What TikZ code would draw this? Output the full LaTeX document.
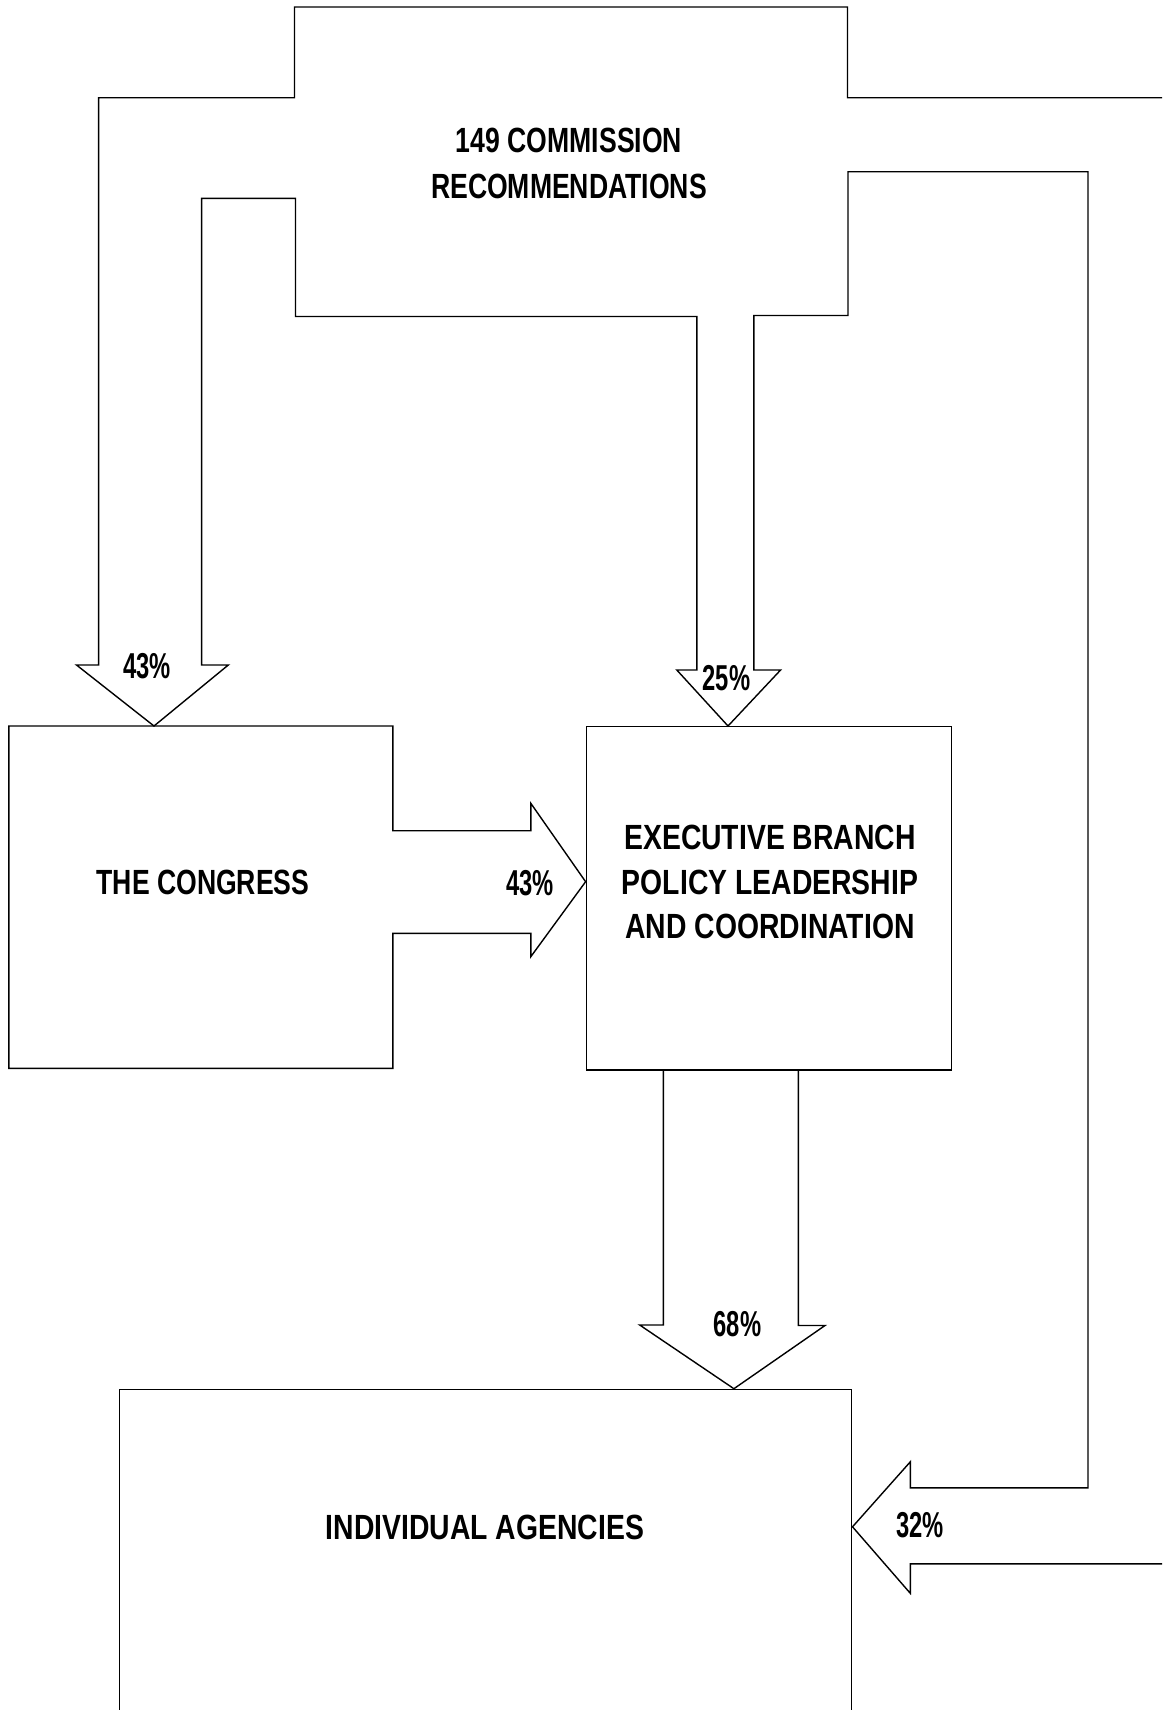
\documentclass[tikz,border=0pt]{standalone}
\usepackage{fontspec}
\newfontfamily\fa[FakeStretch=0.76]{Liberation Sans}
\newfontfamily\fb[FakeStretch=0.81]{Liberation Sans}
\newfontfamily\fc[FakeStretch=0.66]{Liberation Sans}
\begin{document}
\begin{tikzpicture}[x=1pt,y=-1pt]
\tikzset{
  outline/.style={draw=black, line width=1.4pt, line join=miter},
  boxnode/.style={draw=black, line width=1.4pt, inner sep=0pt, anchor=north west},
  bigtext/.style={inner sep=0pt, align=center, font=\fa\bfseries\fontsize{35}{46.7}\selectfont},
  widetext/.style={inner sep=0pt, align=center, font=\fb\bfseries\fontsize{35}{44.5}\selectfont},
  pct/.style={inner sep=0pt, font=\fc\bfseries\fontsize{36}{36}\selectfont}
}
\useasboundingbox (0,0) rectangle (1162,1710);
\fill[white] (0,0) rectangle (1162,1710);
\clip (0,0) rectangle (1162,1710);

% commission block with its three outgoing arrows
\draw[outline] (154,726) -- (76.5,665) -- (98.6,665) -- (98.6,97.7) -- (294.5,97.7)
  -- (294.5,7) -- (847.5,7) -- (847.5,97.7) -- (1180,97.7) -- (1180,1563.8)
  -- (910.3,1563.8) -- (910.3,1593.3) -- (852.5,1526.8) -- (910.3,1461.8)
  -- (910.3,1487.9) -- (1088,1487.9) -- (1088,171.7) -- (848,171.7) -- (848,315.5)
  -- (753.9,315.5) -- (753.9,670) -- (780.6,670) -- (728,726) -- (676.8,670)
  -- (696.8,670) -- (696.8,316.5) -- (295.5,316.5) -- (295.5,198.3) -- (201.6,198.3)
  -- (201.6,665) -- (228.3,665) -- cycle;

% congress box with arrow to executive
\draw[outline] (392.9,830.7) -- (392.9,726) -- (8.9,726) -- (8.9,1068.3) -- (392.9,1068.3)
  -- (392.9,933.3) -- (530.8,933.3) -- (530.8,956.7) -- (585.6,881.7) -- (530.8,803.3)
  -- (530.8,830.7) -- cycle;

% executive box
\node[boxnode, minimum width=365.4pt, minimum height=343.3pt] (exec) at (585.6,726) {};
% agencies box
\node[boxnode, minimum width=732.4pt, minimum height=400pt] (agen) at (118.6,1388.7) {};

% arrow executive -> agencies
\draw[outline] (663.4,1069.3) -- (663.4,1325) -- (639.7,1325) -- (733.9,1388.7)
  -- (825,1325.5) -- (798.3,1325.5) -- (798.3,1069.3);

% texts
\node[bigtext] (tcomm) at (569,163.3) {149 COMMISSION\\RECOMMENDATIONS};
\node[bigtext] (tcong) at (203,882) {THE CONGRESS};
\node[widetext] (texec) at (770,882) {EXECUTIVE BRANCH\\POLICY LEADERSHIP\\AND COORDINATION};
\node[widetext] (tagen) at (485,1527) {INDIVIDUAL AGENCIES};

\node[pct] (p1) at (147,666) {43\%};
\node[pct] (p2) at (726.5,678) {25\%};
\node[pct] (p3) at (530,883) {43\%};
\node[pct] (p4) at (737.5,1324.5) {68\%};
\node[pct] (p5) at (920,1525.5) {32\%};
\end{tikzpicture}
\end{document}
